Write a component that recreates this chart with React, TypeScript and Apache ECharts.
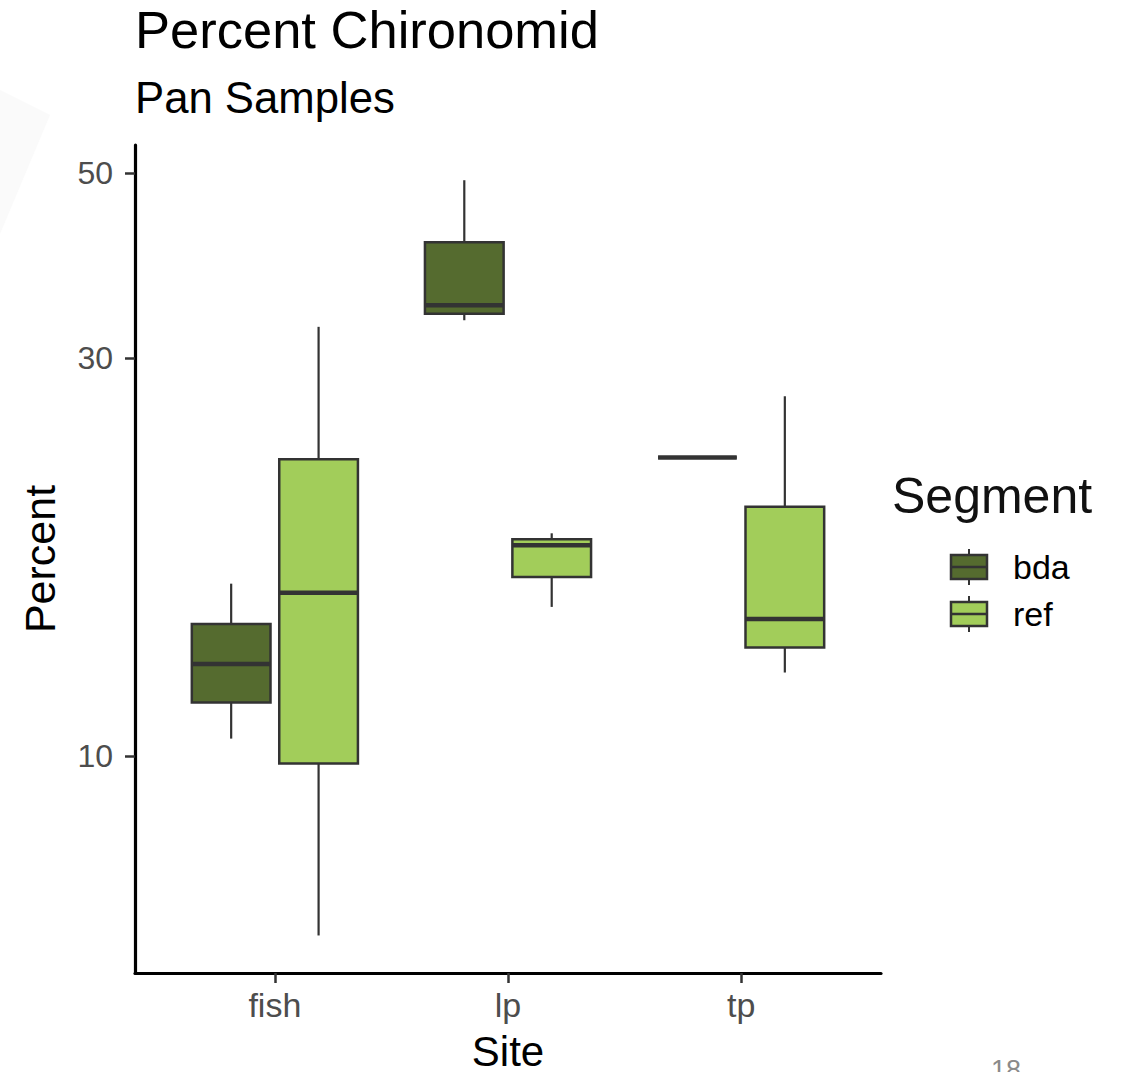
import React, { useEffect, useRef } from "react";
import * as echarts from "echarts";

// ---- data (five-number summaries: min, Q1, median, Q3, max) ----
const sites = ["fish", "lp", "tp"];
const segments = ["bda", "ref"];
const bdaStats = [
  [10.5, 11.6, 12.9, 14.4, 16.1],
  [33.3, 33.9, 34.7, 41.3, 49.0],
  [22.8, 22.8, 22.8, 22.8, 22.8],
];
const refStats = [
  [6.1, 9.8, 15.7, 22.7, 32.7],
  [15.1, 16.4, 17.9, 18.2, 18.5],
  [12.6, 13.5, 14.6, 19.9, 27.0],
];
const yTicks = [10, 30, 50];

const FONT = "'Liberation Sans', Arial, Helvetica, sans-serif";
const colors: Record<string, string> = { bda: "#556B2F", ref: "#A2CD5A" };
const OUTLINE = "#333333";
const BOX_WIDTH = 0.3375; // in category units
const DODGE = 0.1875; // in category units

function makeSeries(name: string, stats: number[][], offset: number) {
  return {
    type: "custom",
    name,
    data: stats.map((s, i) => [i, ...s]),
    encode: { x: 0, y: [1, 2, 3, 4, 5] },
    itemStyle: { color: colors[name], borderColor: OUTLINE, borderWidth: 2 },
    renderItem: (params: any, api: any) => {
      const x = api.value(0) + offset;
      const p0 = api.coord([x, api.value(3)]);
      const p1 = api.coord([x + 1, api.value(3)]);
      const unit = p1[0] - p0[0];
      const half = (unit * BOX_WIDTH) / 2;
      const cx = p0[0];
      const yMin = api.coord([x, api.value(1)])[1];
      const yQ1 = api.coord([x, api.value(2)])[1];
      const yMed = p0[1];
      const yQ3 = api.coord([x, api.value(4)])[1];
      const yMax = api.coord([x, api.value(5)])[1];
      const lineStyle = { stroke: OUTLINE, lineWidth: 2.2 };
      return {
        type: "group",
        children: [
          { type: "line", shape: { x1: cx, y1: yMax, x2: cx, y2: yQ3 }, style: lineStyle },
          { type: "line", shape: { x1: cx, y1: yQ1, x2: cx, y2: yMin }, style: lineStyle },
          {
            type: "rect",
            shape: { x: cx - half, y: yQ3, width: half * 2, height: yQ1 - yQ3 },
            style: { fill: colors[name], stroke: OUTLINE, lineWidth: 2.5 },
          },
          {
            type: "line",
            shape: { x1: cx - half, y1: yMed, x2: cx + half, y2: yMed },
            style: { stroke: OUTLINE, lineWidth: 4.5 },
          },
        ],
      };
    },
  };
}

function legendItem(name: string, top: number) {
  const left = 951;
  const w = 36;
  const h = 24;
  const cx = left + w / 2;
  return [
    { type: "line", shape: { x1: cx, y1: top - 6, x2: cx, y2: top + h + 6 }, style: { stroke: OUTLINE, lineWidth: 2 } },
    { type: "rect", shape: { x: left, y: top, width: w, height: h }, style: { fill: colors[name], stroke: OUTLINE, lineWidth: 2.5 } },
    { type: "line", shape: { x1: left, y1: top + h / 2, x2: left + w, y2: top + h / 2 }, style: { stroke: OUTLINE, lineWidth: 2.5 } },
    {
      type: "text",
      x: 1013,
      y: top + h / 2,
      style: { text: name, fontSize: 34, fontFamily: FONT, fill: "#000", verticalAlign: "middle", align: "left" },
    },
  ];
}

export default function App() {
  const ref = useRef<HTMLDivElement>(null);
  useEffect(() => {
    document.body.style.margin = "0";
    if (!ref.current) return;
    const chart = echarts.init(ref.current, null, { renderer: "svg" });
    chart.setOption({
      animation: false,
      backgroundColor: "#ffffff",
      title: [
        { text: "Percent Chironomid", left: 135, top: 3, padding: 0, textStyle: { fontSize: 52.5, fontWeight: "normal", color: "#000", fontFamily: FONT } },
        { text: "Pan Samples", left: 135, top: 75, padding: 0, textStyle: { fontSize: 43.7, fontWeight: "normal", color: "#000", fontFamily: FONT } },
      ],
      grid: { left: 135, right: 241, top: 145, bottom: 99, containLabel: false, outerBoundsMode: "none" },
      xAxis: {
        type: "value",
        min: -0.6,
        max: 2.6,
        name: "Site",
        nameLocation: "middle",
        nameGap: 57,
        nameTextStyle: { fontSize: 42, color: "#000", fontFamily: FONT },
        splitLine: { show: false },
        axisLine: { show: true, onZero: false, lineStyle: { color: "#000", width: 3.2 } },
        axisTick: { show: true, length: 10, lineStyle: { color: OUTLINE, width: 2.5 }, customValues: [0, 1, 2] },
        axisLabel: {
          customValues: [0, 1, 2],
          formatter: (v: number) => sites[Math.round(v)] ?? "",
          fontSize: 34,
          color: "#4d4d4d",
          fontFamily: FONT,
          margin: 15,
        },
      },
      yAxis: {
        type: "log",
        logBase: 10,
        min: 5.5,
        max: 54,
        name: "Percent",
        nameLocation: "middle",
        nameGap: 74,
        nameRotate: 90,
        nameTextStyle: { fontSize: 43, color: "#000", fontFamily: FONT },
        splitLine: { show: false },
        axisLine: { show: true, onZero: false, lineStyle: { color: "#000", width: 3.2 } },
        axisTick: { show: true, length: 10, lineStyle: { color: OUTLINE, width: 2.5 }, customValues: yTicks },
        axisLabel: {
          customValues: yTicks,
          formatter: (v: number) => String(Math.round(v)),
          fontSize: 32,
          color: "#4d4d4d",
          fontFamily: FONT,
          margin: 22,
        },
      },
      series: [makeSeries("bda", bdaStats, -DODGE), makeSeries("ref", refStats, DODGE)],
      graphic: [
        { type: "polygon", shape: { points: [[0, 90], [50, 115], [0, 234]] }, style: { fill: "#fafafa" }, z: -10 },
        {
          type: "text",
          x: 892,
          y: 496,
          style: { text: "Segment", fontSize: 50, fontFamily: FONT, fill: "#111", verticalAlign: "middle", align: "left" },
        },
        ...legendItem(segments[0], 555),
        ...legendItem(segments[1], 602),
        {
          type: "text",
          x: 991,
          y: 1056,
          style: { text: "18", fontSize: 27, fontFamily: FONT, fill: "#8a8a8a", verticalAlign: "top", align: "left" },
        },
      ],
    });
    return () => chart.dispose();
  }, []);
  return <div ref={ref} style={{ width: 1122, height: 1072 }} />;
}
